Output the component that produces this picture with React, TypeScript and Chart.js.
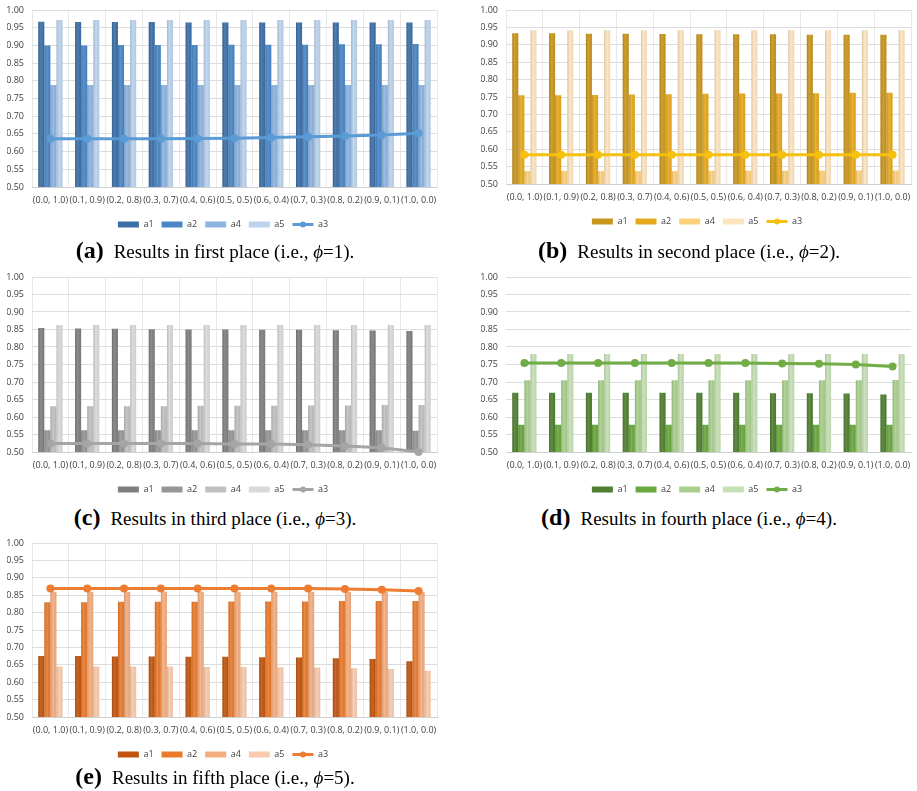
import React, { useEffect, useRef } from "react";
import { Chart, registerables } from "chart.js";

Chart.register(...registerables);

// ---------- data ----------
const categories = [
  "(0.0, 1.0)", "(0.1, 0.9)", "(0.2, 0.8)", "(0.3, 0.7)", "(0.4, 0.6)", "(0.5, 0.5)",
  "(0.6, 0.4)", "(0.7, 0.3)", "(0.8, 0.2)", "(0.9, 0.1)", "(1.0, 0.0)",
];
const seriesNames = ["a1", "a2", "a4", "a5", "a3"];
const yMin = 0.5;
const yMax = 1.0;
const yStep = 0.05;

// (a) first place, phi = 1
const firstA1 = [0.967, 0.966, 0.966, 0.966, 0.965, 0.965, 0.965, 0.965, 0.965, 0.965, 0.965];
const firstA2 = [0.900, 0.900, 0.901, 0.901, 0.901, 0.902, 0.902, 0.902, 0.903, 0.903, 0.904];
const firstA4 = [0.788, 0.788, 0.788, 0.788, 0.788, 0.788, 0.788, 0.788, 0.788, 0.788, 0.788];
const firstA5 = [0.972, 0.972, 0.972, 0.972, 0.972, 0.972, 0.972, 0.972, 0.972, 0.972, 0.972];
const firstA3 = [0.636, 0.636, 0.636, 0.636, 0.637, 0.638, 0.640, 0.642, 0.644, 0.647, 0.652];

// (b) second place, phi = 2
const secondA1 = [0.933, 0.933, 0.932, 0.932, 0.931, 0.930, 0.930, 0.930, 0.929, 0.929, 0.929];
const secondA2 = [0.755, 0.755, 0.756, 0.757, 0.758, 0.759, 0.760, 0.760, 0.761, 0.762, 0.762];
const secondA4 = [0.537, 0.537, 0.537, 0.537, 0.537, 0.538, 0.538, 0.538, 0.538, 0.539, 0.539];
const secondA5 = [0.942, 0.942, 0.942, 0.942, 0.942, 0.942, 0.942, 0.942, 0.942, 0.942, 0.942];
const secondA3 = [0.584, 0.584, 0.584, 0.584, 0.584, 0.584, 0.584, 0.584, 0.584, 0.584, 0.584];

// (c) third place, phi = 3
const thirdA1 = [0.854, 0.853, 0.852, 0.851, 0.850, 0.850, 0.849, 0.849, 0.848, 0.847, 0.846];
const thirdA2 = [0.562, 0.562, 0.562, 0.562, 0.562, 0.562, 0.562, 0.562, 0.562, 0.562, 0.561];
const thirdA4 = [0.631, 0.631, 0.631, 0.631, 0.632, 0.632, 0.632, 0.633, 0.633, 0.634, 0.634];
const thirdA5 = [0.863, 0.863, 0.863, 0.863, 0.863, 0.863, 0.863, 0.863, 0.863, 0.863, 0.863];
const thirdA3 = [0.524, 0.524, 0.524, 0.524, 0.524, 0.523, 0.523, 0.521, 0.517, 0.512, 0.500];

// (d) fourth place, phi = 4
const fourthA1 = [0.669, 0.669, 0.669, 0.669, 0.669, 0.669, 0.669, 0.668, 0.668, 0.667, 0.664];
const fourthA2 = [0.578, 0.578, 0.578, 0.578, 0.578, 0.578, 0.578, 0.578, 0.578, 0.578, 0.578];
const fourthA4 = [0.705, 0.705, 0.705, 0.705, 0.705, 0.705, 0.705, 0.705, 0.705, 0.705, 0.706];
const fourthA5 = [0.780, 0.780, 0.780, 0.780, 0.780, 0.780, 0.780, 0.780, 0.780, 0.780, 0.780];
const fourthA3 = [0.754, 0.754, 0.754, 0.754, 0.754, 0.754, 0.754, 0.753, 0.752, 0.750, 0.744];

// (e) fifth place, phi = 5
const fifthA1 = [0.675, 0.675, 0.674, 0.674, 0.673, 0.673, 0.672, 0.671, 0.669, 0.667, 0.660];
const fifthA2 = [0.830, 0.830, 0.831, 0.831, 0.831, 0.832, 0.832, 0.832, 0.833, 0.833, 0.833];
const fifthA4 = [0.860, 0.860, 0.860, 0.860, 0.860, 0.860, 0.860, 0.860, 0.860, 0.860, 0.860];
const fifthA5 = [0.645, 0.645, 0.645, 0.645, 0.644, 0.644, 0.643, 0.642, 0.640, 0.638, 0.633];
const fifthA3 = [0.869, 0.869, 0.869, 0.869, 0.869, 0.869, 0.869, 0.869, 0.868, 0.866, 0.862];

// ---------- styles ----------
const blues = ["#3C6FA6", "#4A86C6", "#8EB4E0", "#BCD3EE", "#5B9BD5"];
const golds = ["#C8961C", "#E6A91E", "#FDD07A", "#FCE4BE", "#F5C10E"];
const grays = ["#7F7F7F", "#969696", "#C0C0C0", "#D9D9D9", "#A5A5A5"];
const greens = ["#4F7F30", "#69A83E", "#A8CF8C", "#C6E0B5", "#70AD47"];
const oranges = ["#C0550F", "#EA7A2C", "#F4AD7F", "#F8CBAE", "#ED7D31"];

const tickFont = { family: "'Open Sans', 'Liberation Sans', sans-serif", size: 9 };
const tickColor = "#404040";

const PLOT_TOP = 10;
const X_AXIS_H = 25;
const LEGEND_H = 27;
const Y_AXIS_W = 25;
const CANVAS_W = 434;

type PanelProps = {
  bars: number[][];
  line: number[];
  colors: string[];
  vgrid: boolean;
  left: number;
  top: number;
  plotH: number;
};

// subtle Excel-like shading drawn over each bar, clipped to the plot area
const barShadePlugin = {
  id: "barShade",
  afterDatasetDraw(chart: any, args: any) {
    const meta = args.meta;
    if (meta.type !== "bar") return;
    const c = chart.ctx;
    const area = chart.chartArea;
    c.save();
    c.beginPath();
    c.rect(area.left, area.top, area.right - area.left, area.bottom - area.top);
    c.clip();
    for (const el of meta.data) {
      const { x, y, base, width } = el.getProps(["x", "y", "base", "width"], true);
      const l = x - width / 2;
      const g = c.createLinearGradient(l, 0, l + width, 0);
      g.addColorStop(0, "rgba(0,0,0,0.14)");
      g.addColorStop(0.45, "rgba(255,255,255,0.10)");
      g.addColorStop(1, "rgba(0,0,0,0.04)");
      c.fillStyle = g;
      c.fillRect(l, Math.min(y, base), width, Math.abs(base - y));
    }
    c.restore();
  },
};

function PanelChart({ bars, line, colors, vgrid, left, top, plotH }: PanelProps) {
  const ref = useRef<HTMLCanvasElement | null>(null);
  const H = Math.round(PLOT_TOP + plotH + X_AXIS_H + LEGEND_H);
  useEffect(() => {
    if (!ref.current) return;
    const markerPlugin = {
      id: "legendMarker",
      afterDraw(chart: any) {
        const lg = chart.legend;
        if (!lg || !lg.legendHitBoxes) return;
        const items = lg.legendItems || [];
        const idx = items.findIndex((it: any) => it.datasetIndex === 4);
        const hb = lg.legendHitBoxes[idx];
        if (!hb) return;
        const c = chart.ctx;
        c.save();
        c.fillStyle = colors[4];
        c.beginPath();
        c.arc(hb.left + 10.5, hb.top + hb.height / 2, 3, 0, Math.PI * 2);
        c.fill();
        c.restore();
      },
    };
    const chart = new Chart(ref.current, {
      type: "bar",
      data: {
        labels: categories,
        datasets: [
          ...bars.map((vals, i) => ({
            type: "bar" as const,
            label: seriesNames[i],
            data: vals,
            backgroundColor: colors[i],
            borderWidth: 0,
            categoryPercentage: 0.66,
            barPercentage: 1.0,
            order: 1,
          })),
          {
            type: "line" as const,
            label: seriesNames[4],
            data: line,
            borderColor: colors[4],
            backgroundColor: colors[4],
            borderWidth: 3,
            pointRadius: 4,
            pointBackgroundColor: colors[4],
            pointBorderColor: colors[4],
            pointBorderWidth: 0,
            order: 0,
            clip: 6,
          } as any,
        ],
      },
      options: {
        animation: false,
        responsive: false,
        maintainAspectRatio: false,
        layout: { padding: { top: PLOT_TOP, right: 2, left: 0, bottom: 0 } },
        plugins: {
          tooltip: { enabled: false },
          legend: {
            position: "bottom",
            labels: {
              usePointStyle: true,
              pointStyleWidth: 21,
              boxHeight: 6,
              padding: 8,
              color: tickColor,
              font: tickFont,
              sort: (a: any, b: any) => a.datasetIndex - b.datasetIndex,
              generateLabels: (ch: any) => {
                const items = Chart.defaults.plugins.legend.labels.generateLabels(ch);
                return items.map((it: any) => {
                  if (it.datasetIndex === 4) {
                    return { ...it, pointStyle: "line", strokeStyle: colors[4], lineWidth: 3 };
                  }
                  return { ...it, pointStyle: "rect", lineWidth: 0, strokeStyle: "rgba(0,0,0,0)" };
                });
              },
            },
          },
        },
        scales: {
          x: {
            grid: { display: vgrid, color: "#E8E8E8", drawTicks: false, offset: true },
            border: { display: true, color: "#D0D0D0" },
            ticks: { font: tickFont, color: tickColor, padding: 8, autoSkip: false, maxRotation: 0, minRotation: 0 },
            afterFit: (s: any) => {
              s.height = X_AXIS_H;
              s.paddingLeft = 0;
              s.paddingRight = 0;
            },
          },
          y: {
            min: yMin,
            max: yMax,
            grid: { color: "#DDDDDD", drawTicks: false },
            border: { display: false },
            ticks: {
              stepSize: yStep,
              font: tickFont,
              color: tickColor,
              padding: 8,
              callback: (v: any) => Number(v).toFixed(2),
            },
            afterFit: (s: any) => {
              s.width = Y_AXIS_W;
              s.paddingTop = 0;
              s.paddingBottom = 0;
            },
          },
        },
      },
      plugins: [barShadePlugin, markerPlugin],
    } as any);
    return () => chart.destroy();
  }, []);
  return (
    <canvas
      ref={ref}
      width={CANVAS_W}
      height={H}
      style={{ position: "absolute", left, top, width: CANVAS_W, height: H }}
    />
  );
}

const serif = "'Liberation Serif', 'Times New Roman', serif";

function Caption({ letter, text, phi, left, top }: { letter: string; text: string; phi: string; left: number; top: number }) {
  return (
    <div
      style={{
        position: "absolute",
        left,
        top,
        width: 430,
        textAlign: "center",
        fontFamily: serif,
        fontSize: 19,
        lineHeight: "24px",
        color: "#000",
        whiteSpace: "nowrap",
      }}
    >
      <span style={{ fontWeight: "bold", fontSize: 24 }}>({letter})</span>
      <span style={{ marginLeft: 10 }}>
        {text} (i.e., <i>ϕ</i>={phi}).
      </span>
    </div>
  );
}

export default function App() {
  return (
    <div style={{ position: "absolute", left: 0, top: 0, width: 917, height: 791, background: "#fff", overflow: "hidden" }}>
      <PanelChart bars={[firstA1, firstA2, firstA4, firstA5]} line={firstA3} colors={blues} vgrid={true} left={7} top={0} plotH={176.5} />
      <PanelChart bars={[secondA1, secondA2, secondA4, secondA5]} line={secondA3} colors={golds} vgrid={true} left={481} top={0} plotH={174} />
      <PanelChart bars={[thirdA1, thirdA2, thirdA4, thirdA5]} line={thirdA3} colors={grays} vgrid={true} left={7} top={267} plotH={175} />
      <PanelChart bars={[fourthA1, fourthA2, fourthA4, fourthA5]} line={fourthA3} colors={greens} vgrid={false} left={481} top={267} plotH={175} />
      <PanelChart bars={[fifthA1, fifthA2, fifthA4, fifthA5]} line={fifthA3} colors={oranges} vgrid={true} left={7} top={533} plotH={173.5} />
      <Caption letter="a" text="Results in first place" phi="1" left={0} top={238} />
      <Caption letter="b" text="Results in second place" phi="2" left={474} top={238} />
      <Caption letter="c" text="Results in third place" phi="3" left={0} top={505} />
      <Caption letter="d" text="Results in fourth place" phi="4" left={474} top={505} />
      <Caption letter="e" text="Results in fifth place" phi="5" left={0} top={764} />
    </div>
  );
}
